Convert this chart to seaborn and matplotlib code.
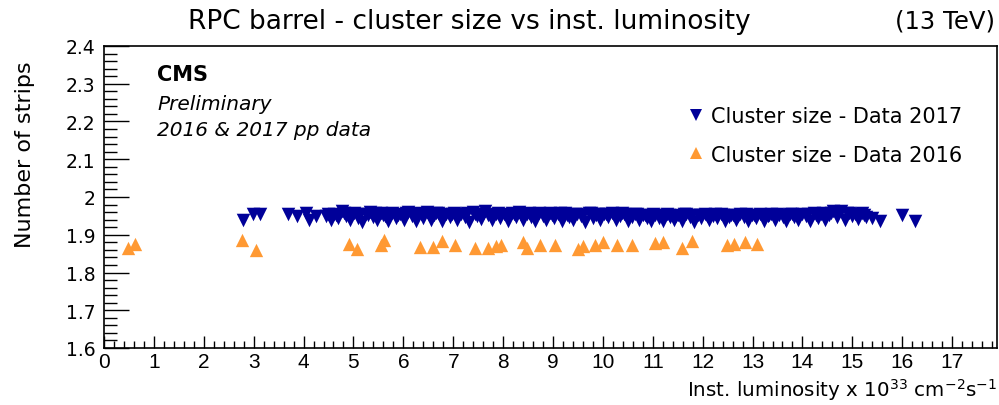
import matplotlib
matplotlib.use("Agg")
import matplotlib.pyplot as plt
from matplotlib.lines import Line2D
from matplotlib.ticker import MultipleLocator
import seaborn as sns
import pandas as pd

# ---------------- data ----------------
lumi_2016 = [0.48, 0.62, 2.77, 3.05, 4.91, 5.07, 5.55, 5.62, 6.33, 6.59, 6.77, 7.03,
             7.43, 7.70, 7.85, 7.95, 8.40, 8.48, 8.74, 9.04, 9.50, 9.60, 9.85, 10.00,
             10.28, 10.58, 11.05, 11.20, 11.58, 11.78, 12.48, 12.62, 12.85, 13.09]
cls_2016 = [1.865, 1.875, 1.886, 1.860, 1.875, 1.862, 1.872, 1.886, 1.868, 1.868, 1.884, 1.874,
            1.866, 1.866, 1.870, 1.872, 1.880, 1.866, 1.872, 1.872, 1.862, 1.870, 1.874, 1.880,
            1.872, 1.874, 1.878, 1.880, 1.866, 1.884, 1.872, 1.876, 1.880, 1.876]

lumi_2017 = [2.79, 2.98, 3.13, 3.68, 3.86, 4.05, 4.10, 4.24,
             4.45, 4.55, 4.62, 4.70, 4.78, 4.85, 4.93,
             5.02, 5.10, 5.18, 5.25, 5.33, 5.40, 5.48, 5.55, 5.63, 5.70, 5.78, 5.86, 5.93,
             6.02, 6.10, 6.17, 6.25, 6.32, 6.40, 6.48, 6.55, 6.62, 6.70, 6.78, 6.86, 6.93,
             7.01, 7.08, 7.16, 7.24, 7.32, 7.40, 7.47, 7.55, 7.63, 7.70, 7.78, 7.86, 7.93,
             8.01, 8.09, 8.17, 8.25, 8.32, 8.40, 8.48, 8.56, 8.63, 8.71, 8.79, 8.86, 8.94,
             9.02, 9.10, 9.18, 9.25, 9.33, 9.41, 9.48, 9.56, 9.64, 9.72, 9.80, 9.87, 9.95,
             10.03, 10.11, 10.19, 10.27, 10.34, 10.42, 10.50, 10.58, 10.65, 10.73, 10.81, 10.89, 10.96,
             11.04, 11.12, 11.20, 11.28, 11.35, 11.43, 11.51, 11.59, 11.67, 11.74, 11.82, 11.90, 11.97,
             12.05, 12.13, 12.21, 12.29, 12.36, 12.44, 12.52, 12.60, 12.67, 12.75, 12.83, 12.91, 12.98,
             13.06, 13.14, 13.22, 13.30, 13.37, 13.45, 13.53, 13.61, 13.68, 13.76, 13.84, 13.92, 13.99,
             14.07, 14.15, 14.23, 14.31, 14.38, 14.46, 14.54, 14.62, 14.69, 14.77, 14.85, 14.93, 15.00,
             15.05, 15.12, 15.20, 15.28, 15.39, 15.55, 15.99, 16.25,
             # second, interleaved set of runs (upper part of the band)
             4.50, 4.66, 4.82, 4.98, 5.14, 5.29, 5.44, 5.59, 5.74, 5.90, 6.06, 6.21,
             6.36, 6.52, 6.66, 6.82, 6.97, 7.12, 7.28, 7.44, 7.59, 7.74, 7.90, 8.05,
             8.21, 8.36, 8.52, 8.67, 8.83, 8.98, 9.14, 9.29, 9.45, 9.60, 9.76, 9.91,
             10.07, 10.23, 10.38, 10.54, 10.69, 10.85, 11.00, 11.16, 11.32, 11.47, 11.63,
             11.78, 11.94, 12.09, 12.25, 12.40, 12.56, 12.71, 12.87, 13.02, 13.18, 13.33,
             13.49, 13.64, 13.80, 13.96, 14.11, 14.27, 14.42, 14.58, 14.73, 14.89, 15.09, 15.24]
cls_2017 = [1.940, 1.955, 1.955, 1.955, 1.950, 1.958, 1.938, 1.950,
            1.950, 1.938, 1.955, 1.945, 1.962, 1.950, 1.940,
            1.958, 1.945, 1.935, 1.955, 1.960, 1.948, 1.940, 1.957, 1.950, 1.936, 1.958, 1.945, 1.955,
            1.940, 1.960, 1.950, 1.936, 1.957, 1.945, 1.960, 1.940, 1.952, 1.958, 1.937, 1.955, 1.948,
            1.958, 1.940, 1.955, 1.947, 1.934, 1.960, 1.950, 1.943, 1.962, 1.952, 1.938, 1.956, 1.945,
            1.955, 1.937, 1.958, 1.948, 1.960, 1.940, 1.954, 1.946, 1.936, 1.957, 1.950, 1.940, 1.958,
            1.945, 1.955, 1.936, 1.958, 1.948, 1.940, 1.956, 1.950, 1.935, 1.957, 1.944, 1.952, 1.938,
            1.955, 1.946, 1.958, 1.938, 1.950, 1.955, 1.936, 1.948, 1.956, 1.940, 1.952, 1.945, 1.937,
            1.953, 1.945, 1.936, 1.955, 1.948, 1.940, 1.952, 1.937, 1.954, 1.946, 1.935, 1.952, 1.944,
            1.954, 1.938, 1.950, 1.945, 1.955, 1.936, 1.948, 1.953, 1.940, 1.955, 1.946, 1.936, 1.952,
            1.945, 1.955, 1.937, 1.950, 1.956, 1.940, 1.952, 1.946, 1.936, 1.955, 1.948, 1.940, 1.956,
            1.950, 1.937, 1.957, 1.945, 1.955, 1.938, 1.952, 1.962, 1.948, 1.963, 1.940, 1.958, 1.950,
            1.955, 1.942, 1.958, 1.948, 1.944, 1.936, 1.952, 1.936,
            1.956, 1.952, 1.958, 1.954, 1.955, 1.951, 1.957, 1.953, 1.956, 1.952, 1.958, 1.954,
            1.955, 1.951, 1.957, 1.953, 1.956, 1.952, 1.958, 1.954, 1.955, 1.951, 1.957, 1.953,
            1.956, 1.952, 1.958, 1.954, 1.955, 1.951, 1.957, 1.953, 1.956, 1.952, 1.958, 1.954,
            1.955, 1.951, 1.957, 1.953, 1.956, 1.952, 1.955, 1.951, 1.953, 1.950, 1.954,
            1.951, 1.953, 1.950, 1.954, 1.951, 1.953, 1.950, 1.954, 1.951, 1.953, 1.952,
            1.954, 1.951, 1.955, 1.952, 1.956, 1.953, 1.957, 1.958, 1.960, 1.957, 1.955, 1.953]

x_ticks = list(range(0, 18))
y_ticks = [1.6, 1.7, 1.8, 1.9, 2.0, 2.1, 2.2, 2.3, 2.4]
y_tick_labels = ["1.6", "1.7", "1.8", "1.9", "2", "2.1", "2.2", "2.3", "2.4"]
label_2017 = "Cluster size - Data 2017"
label_2016 = "Cluster size - Data 2016"

# ---------------- style ----------------
sns.set_style("white")
plt.rcParams["font.family"] = ["DejaVu Sans"]
plt.rcParams["mathtext.fontset"] = "dejavusans"
plt.rcParams["text.color"] = "black"
plt.rcParams["xtick.color"] = "black"
plt.rcParams["ytick.color"] = "black"
plt.rcParams["axes.labelcolor"] = "black"

BLUE = "#000099"
ORANGE = "#ff9933"

fig = plt.figure(figsize=(9.99, 4.06), dpi=100)
ax = fig.add_axes([104 / 999, 1 - 349 / 406, (997 - 104) / 999, (349 - 47) / 406])

df17 = pd.DataFrame({"lumi": lumi_2017, "cls": cls_2017})
df16 = pd.DataFrame({"lumi": lumi_2016, "cls": cls_2016})

sns.scatterplot(data=df17, x="lumi", y="cls", marker="v", color=BLUE, s=95,
                linewidth=0, ax=ax, legend=False)
sns.scatterplot(data=df16, x="lumi", y="cls", marker="^", color=ORANGE, s=92,
                linewidth=0, ax=ax, legend=False)

ax.set_xlim(0, 17.9)
ax.set_ylim(1.6, 2.4)
ax.set_xticks(x_ticks)
ax.set_xticklabels([str(t) for t in x_ticks], fontfamily="Liberation Sans")
ax.set_yticks(y_ticks)
ax.set_yticklabels(y_tick_labels)
ax.xaxis.set_minor_locator(MultipleLocator(0.2))
ax.yaxis.set_minor_locator(MultipleLocator(0.02))
ax.tick_params(axis="x", which="major", direction="in", length=9, width=1,
               labelsize=15, pad=3, bottom=True, top=False, colors="black")
ax.tick_params(axis="x", which="minor", direction="in", length=5, width=1,
               bottom=True, top=False, colors="black")
ax.tick_params(axis="y", which="major", direction="in", length=18, width=1,
               labelsize=13.5, pad=6, left=True, right=False, colors="black")
ax.tick_params(axis="y", which="minor", direction="in", length=9, width=1,
               left=True, right=False, colors="black")
for sp in ax.spines.values():
    sp.set_visible(True)
    sp.set_color("black")
    sp.set_linewidth(1.2)
ax.set_xlabel("")
ax.set_ylabel("")

fig.text(997 / 999, 1 - 390 / 406,
         r"Inst. luminosity x 10$^{33}$ cm$^{-2}$s$^{-1}$",
         ha="right", va="center", fontsize=14.3)
fig.text(25 / 999, 1 - 155 / 406, "Number of strips", rotation=90,
         ha="center", va="center", fontsize=16)
fig.text(469 / 999, 1 - 22 / 406, "RPC barrel - cluster size vs inst. luminosity",
         ha="center", va="center", fontsize=19)
fig.text(995 / 999, 1 - 22 / 406, "(13 TeV)", ha="right", va="center", fontsize=17.5)

ax.text(157 / 999, 1 - 75 / 406, "CMS", transform=fig.transFigure, ha="left",
        va="center", fontsize=15, fontweight="bold")
ax.text(157 / 999, 1 - 105 / 406, "Preliminary", transform=fig.transFigure,
        ha="left", va="center", fontsize=14.5, style="italic")
ax.text(157 / 999, 1 - 131 / 406, "2016 & 2017 pp data", transform=fig.transFigure,
        ha="left", va="center", fontsize=14.5, style="italic")

handles = [
    Line2D([], [], linestyle="none", marker="v", color=BLUE, markersize=8,
           markeredgewidth=0, label=label_2017),
    Line2D([], [], linestyle="none", marker="^", color=ORANGE, markersize=8,
           markeredgewidth=0, label=label_2016),
]
leg = ax.legend(handles=handles, loc="upper left",
                bbox_to_anchor=(688 / 999, 1 - 107 / 406),
                bbox_transform=fig.transFigure, frameon=False, fontsize=15,
                handlelength=0.8, handletextpad=0.3, labelspacing=0.9,
                borderpad=0, borderaxespad=0)
for t in leg.get_texts():
    t.set_color("black")

fig.savefig("out.png", dpi=100)
